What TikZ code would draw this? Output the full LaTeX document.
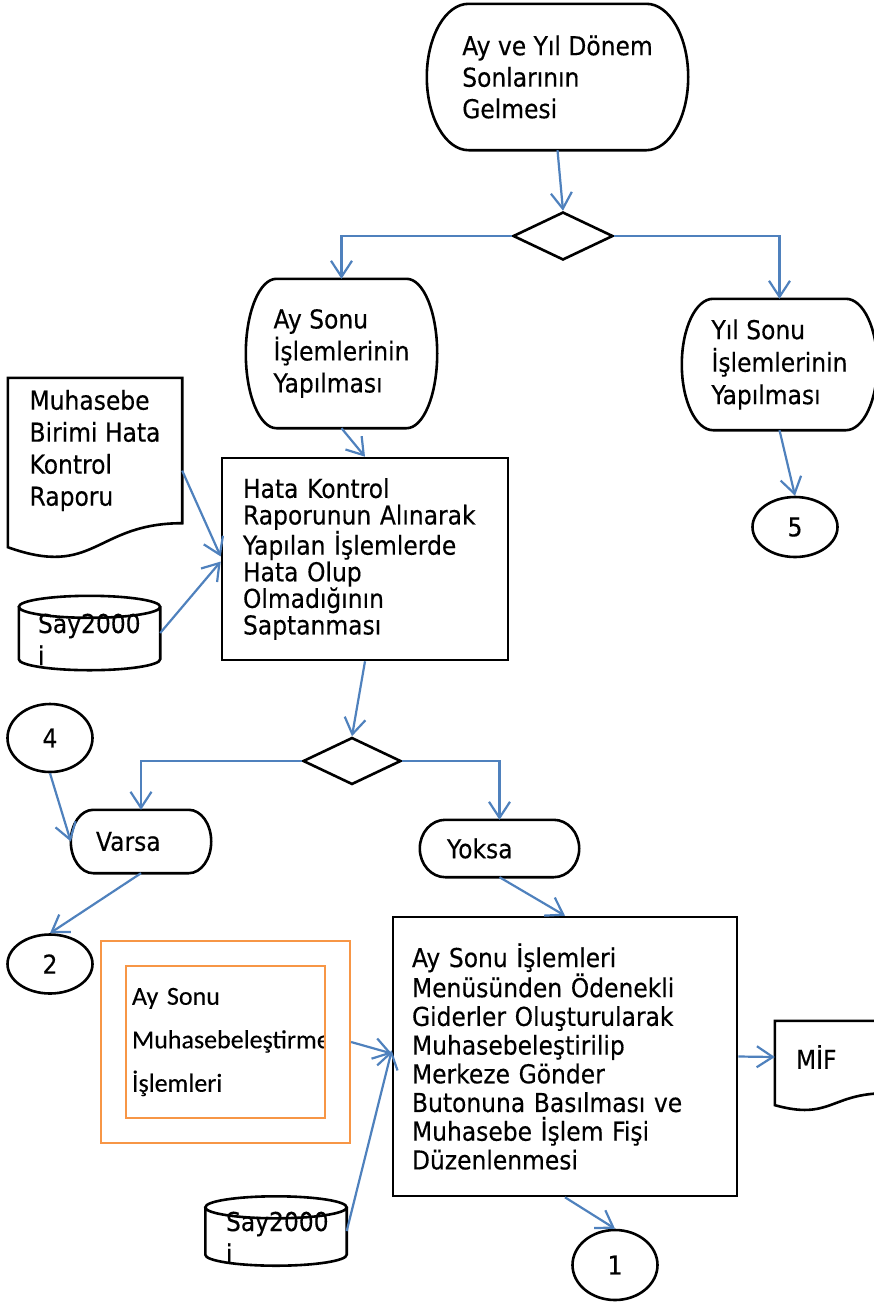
\documentclass[tikz,border=0pt]{standalone}
\usepackage{fontspec}
\setmainfont{DejaVu Sans}[FakeStretch=0.9, FakeBold=0.35]
\newfontfamily\calibri{Carlito}[FakeBold=0.3]
\usetikzlibrary{shapes.geometric, arrows.meta, calc}
\definecolor{linkblue}{RGB}{79,129,189}
\definecolor{boxorange}{RGB}{247,150,70}
\hyphenpenalty=10000
\exhyphenpenalty=10000

\begin{document}
\begin{tikzpicture}[x=1pt, y=-1pt]
  \tikzstyle{txt}=[font=\fontsize{26}{32}\selectfont, inner sep=0pt, align=left]
  \tikzstyle{terminal}=[txt, rectangle]
  \tikzstyle{process}=[txt, rectangle, draw=black, line width=2.6pt]
  \tikzstyle{decision}=[diamond, draw=black, line width=2.6pt, inner sep=0pt, minimum width=100pt, minimum height=48pt]
  \tikzstyle{connector}=[txt, ellipse, draw=black, line width=2.6pt, minimum width=85pt]
  \tikzstyle{document}=[txt, rectangle]
  \tikzstyle{database}=[txt, rectangle, minimum width=141pt, minimum height=74pt, text width=103pt]
  \tikzstyle{outline}=[draw=black, line width=2.6pt]
  \tikzstyle{arrow}=[draw=linkblue, line width=2.2pt, -{Straight Barb[length=16pt,width=21pt]}]

  \useasboundingbox (0,0) rectangle (874,1302);

  \node[terminal, minimum width=261pt, minimum height=146pt, font=\fontsize{26}{31.5}\selectfont] (start) at (557.5,77) {Ay ve Yıl Dönem\\Sonlarının\\Gelmesi};
  \node[decision] (dec1) at (563,236) {};
  \node[terminal, minimum width=191pt, minimum height=149pt] (aysonu) at (341.5,353.5) {Ay Sonu\\İşlemlerinin\\Yapılması};
  \node[terminal, minimum width=195pt, minimum height=131pt, font=\fontsize{26}{32.5}\selectfont] (yilsonu) at (779.5,364.5) {Yıl Sonu\\İşlemlerinin\\Yapılması};
  \node[connector, minimum height=60pt] (c5) at (795,527) {5};
  \node[document, minimum width=174pt, minimum height=145pt] (rapor) at (95,450.5) {Muhasebe\\Birimi Hata\\Kontrol\\Raporu};
  \node[process, minimum width=286pt, minimum height=202pt, text width=244pt, font=\fontsize{26}{26.6}\selectfont] (hata) at (365,559) {Hata Kontrol\\Raporunun Alınarak\\Yapılan İşlemlerde\\Hata Olup\\Olmadığının\\Saptanması};
  \node[database] (sayA) at (89.5,633) {\rule{0pt}{32pt}Say2000\\i};

  \node[decision, minimum width=98pt, minimum height=47pt] (dec2) at (352,761) {};
  \node[connector, minimum height=68pt] (c4) at (50,738) {4};
  \node[terminal, minimum width=140pt, minimum height=63pt, text width=90pt] (varsa) at (141,841.5) {Varsa};
  \node[terminal, minimum width=159pt, minimum height=57pt, text width=105pt] (yoksa) at (499.5,848.5) {Yoksa};
  \node[connector, minimum height=59pt] (c2) at (50,964) {2};

  \node[rectangle, draw=boxorange, line width=2.2pt, minimum width=249pt, minimum height=202pt] (muhdis) at (225.5,1042) {};
  \begin{scope}
    \clip (126,966) rectangle (325,1117);
    \node[txt, minimum width=199pt, minimum height=152pt, text width=187pt, font=\calibri\fontsize{26}{43.5}\selectfont] (muhic) at (225.5,1042) {Ay Sonu\\Muhasebeleştirme\\İşlemleri};
  \end{scope}
  \draw[draw=boxorange, line width=2.2pt] (muhic.north west) rectangle (muhic.south east);
  \node[process, minimum width=344pt, minimum height=279pt, text width=306pt, font=\fontsize{26}{28.7}\selectfont] (islem) at (565,1056.5) {Ay Sonu İşlemleri\\Menüsünden Ödenekli\\Giderler Oluşturularak\\Muhasebeleştirilip\\Merkeze Gönder\\Butonuna Basılması ve\\Muhasebe İşlem Fişi\\Düzenlenmesi};
  \node[document, minimum width=111pt, minimum height=72pt, text width=69pt] (mif) at (830.5,1057) {MİF};
  \node[database, minimum height=69pt, text width=100pt] (sayB) at (276,1231) {\rule{0pt}{32pt}Say2000\\i};
  \node[connector, minimum height=70pt] (c1) at (615,1265) {1};

  % outlines of the drawn shapes
  \foreach \shp in {start,aysonu,yilsonu,varsa,yoksa}
    \draw[outline] let \p1=(\shp.north west), \p2=(\shp.south east), \n1={0.16*(\x2-\x1)}, \n2={0.5*(\y1-\y2)} in
      (\x1+\n1,\y1) -- (\x2-\n1,\y1) arc[start angle=90, end angle=-90, x radius=\n1, y radius=\n2]
      -- (\x1+\n1,\y2) arc[start angle=270, end angle=90, x radius=\n1, y radius=\n2] -- cycle;
  \foreach \shp in {rapor,mif}
    \draw[outline] let \p1=(\shp.north west), \p2=(\shp.south east), \n1={0.5*(\x1+\x2)}, \n2={\y1-\y2} in
      (\x1,\y1) -- (\x2,\y1) -- (\x2,\y2) .. controls (\n1,\y2) and (\n1,\y1-1.381*\n2) .. (\x1,\y1-1.165*\n2) -- cycle;
  \foreach \shp in {sayA,sayB}
    \draw[outline] let \p1=(\shp.north west), \p2=(\shp.south east), \n1={0.5*(\x2-\x1)} in
      ({0.5*(\x1+\x2)},\y1-11pt) ellipse[x radius=\n1, y radius=11pt]
      (\x1,\y1-11pt) -- (\x1,\y2+11pt) arc[start angle=180, end angle=360, x radius=\n1, y radius=11pt] -- (\x2,\y1-11pt);

  \draw[arrow] (start.south) -- (dec1.north);
  \draw[arrow] (dec1.west) -| (aysonu.north);
  \draw[arrow] (dec1.east) -| (yilsonu.north);
  \draw[arrow] (yilsonu.south) -- (c5.north);
  \draw[arrow] (aysonu.south) -- (hata.north);
  \draw[arrow] (rapor.-13) -- (hata.179);
  \draw[arrow] (sayA.east) -- (hata.181);
  \draw[arrow] (hata.south) -- (dec2.north);
  \draw[arrow] (dec2.west) -| (varsa.north);
  \draw[arrow] (dec2.east) -| (yoksa.north);
  \draw[arrow] (c4.south) -- (varsa.west);
  \draw[arrow] (varsa.south) -- (c2.north);
  \draw[arrow] (yoksa.south) -- (islem.north);
  \draw[arrow] (muhdis.east) -- (islem.179);
  \draw[arrow] (sayB.east) -- (islem.178);
  \draw[arrow] (islem.east) -- (mif.west);
  \draw[arrow] (islem.south) -- (c1.north);
\end{tikzpicture}
\end{document}
